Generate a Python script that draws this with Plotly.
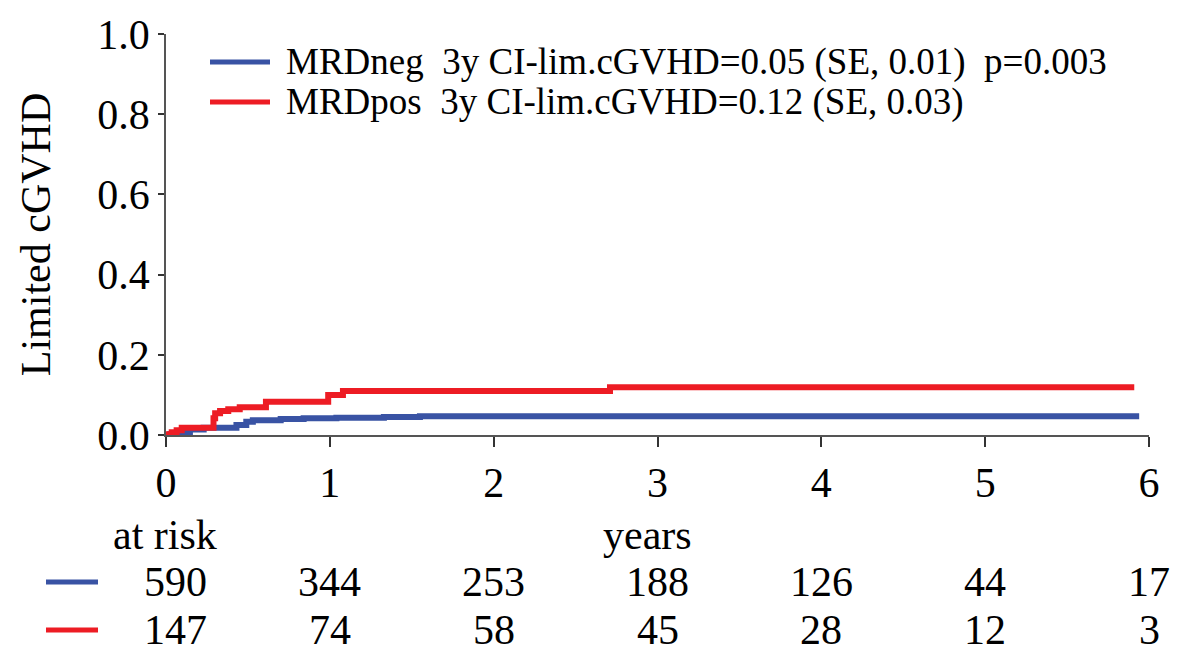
import plotly.graph_objects as go

# Cumulative incidence of limited chronic GVHD by MRD status (step functions)
neg_years = [0, 0.025, 0.065, 0.08, 0.146, 0.23, 0.43, 0.49, 0.53, 0.70, 0.84, 1.04, 1.33, 1.55, 5.94]
neg_ci = [0, 0.002, 0.004, 0.007, 0.014, 0.018, 0.025, 0.033, 0.037, 0.040, 0.042, 0.043, 0.045, 0.047, 0.047]

pos_years = [0, 0.004, 0.035, 0.065, 0.096, 0.29, 0.30, 0.33, 0.38, 0.45, 0.61, 0.99, 1.08, 2.71, 5.91]
pos_ci = [0, 0.002, 0.007, 0.012, 0.018, 0.042, 0.054, 0.060, 0.064, 0.069, 0.083, 0.100, 0.110, 0.119, 0.119]

group_labels = [
    "MRDneg  3y CI-lim.cGVHD=0.05 (SE, 0.01)  p=0.003",
    "MRDpos  3y CI-lim.cGVHD=0.12 (SE, 0.03)",
]
risk_years = [0, 1, 2, 3, 4, 5, 6]
neg_at_risk = [590, 344, 253, 188, 126, 44, 17]
pos_at_risk = [147, 74, 58, 45, 28, 12, 3]

y_ticks = [0.0, 0.2, 0.4, 0.6, 0.8, 1.0]
x_ticks = [0, 1, 2, 3, 4, 5, 6]

BLUE = "#3953A4"
RED = "#ED1C24"
FONT = "Liberation Serif"

W, H = 1179, 653
ML, MR, MT, MB = 166, 30, 34, 218
PW = W - ML - MR
PH = H - MT - MB


def py(pix):
    """Pixel row -> paper y coordinate."""
    return (H - MB - pix) / PH


def px(pix):
    """Pixel column -> paper x coordinate."""
    return (pix - ML) / PW


fig = go.Figure()
fig.add_trace(go.Scatter(x=neg_years, y=neg_ci, mode="lines", line=dict(color=BLUE, width=6, shape="hv"),
                         name=group_labels[0], showlegend=False))
fig.add_trace(go.Scatter(x=pos_years, y=pos_ci, mode="lines", line=dict(color=RED, width=6, shape="hv"),
                         name=group_labels[1], showlegend=False))

shapes = []
annotations = []

# legend block inside the plot
for i, (label, color) in enumerate(zip(group_labels, [BLUE, RED])):
    yy = py(62 + 40 * i)
    shapes.append(dict(type="line", xref="paper", yref="paper", x0=px(210), x1=px(270), y0=yy, y1=yy,
                       line=dict(color=color, width=5)))
    annotations.append(dict(xref="paper", yref="paper", x=px(284), y=yy, text=label, showarrow=False,
                            xanchor="left", yanchor="middle", font=dict(family=FONT, size=37, color="black")))

# axis captions under the x axis
annotations.append(dict(xref="paper", yref="paper", x=px(165), y=py(535), text="at risk", showarrow=False,
                        xanchor="center", yanchor="middle", font=dict(family=FONT, size=42, color="black")))
annotations.append(dict(xref="paper", yref="paper", x=px(647), y=py(535), text="years", showarrow=False,
                        xanchor="center", yanchor="middle", font=dict(family=FONT, size=42, color="black")))

# numbers-at-risk table
for row, (counts, color, rowpix) in enumerate([(neg_at_risk, BLUE, 582), (pos_at_risk, RED, 630)]):
    yy = py(rowpix)
    shapes.append(dict(type="line", xref="paper", yref="paper", x0=px(46), x1=px(98), y0=yy, y1=yy,
                       line=dict(color=color, width=5)))
    for t, n in zip(risk_years, counts):
        annotations.append(dict(xref="x", yref="paper", x=t, y=yy, text=str(n), showarrow=False,
                                xanchor="center", yanchor="middle", xshift=9 if t == 0 else 0,
                                font=dict(family=FONT, size=42, color="black")))

fig.update_layout(
    width=W, height=H,
    margin=dict(l=ML, r=MR, t=MT, b=MB),
    paper_bgcolor="white", plot_bgcolor="white",
    shapes=shapes, annotations=annotations,
    font=dict(family=FONT, size=42, color="black"),
)
fig.update_xaxes(range=[0, 6], tickvals=x_ticks, ticktext=[str(v) for v in x_ticks],
                 showgrid=False, zeroline=False, showline=True, linecolor="#555", linewidth=1.5,
                 ticks="outside", ticklen=10, tickcolor="#333", tickwidth=1.5,
                 tickfont=dict(family=FONT, size=42, color="black"))
fig.update_yaxes(range=[0, 1.0], tickvals=y_ticks, ticktext=[f"{v:.1f}" for v in y_ticks],
                 showgrid=False, zeroline=False, showline=True, linecolor="#555", linewidth=1.5,
                 ticks="outside", ticklen=6, tickcolor="#333", tickwidth=1.5,
                 tickfont=dict(family=FONT, size=42, color="black"),
                 title=dict(text="Limited cGVHD", font=dict(family=FONT, size=42, color="black"), standoff=34))

fig.write_html("out.html")
